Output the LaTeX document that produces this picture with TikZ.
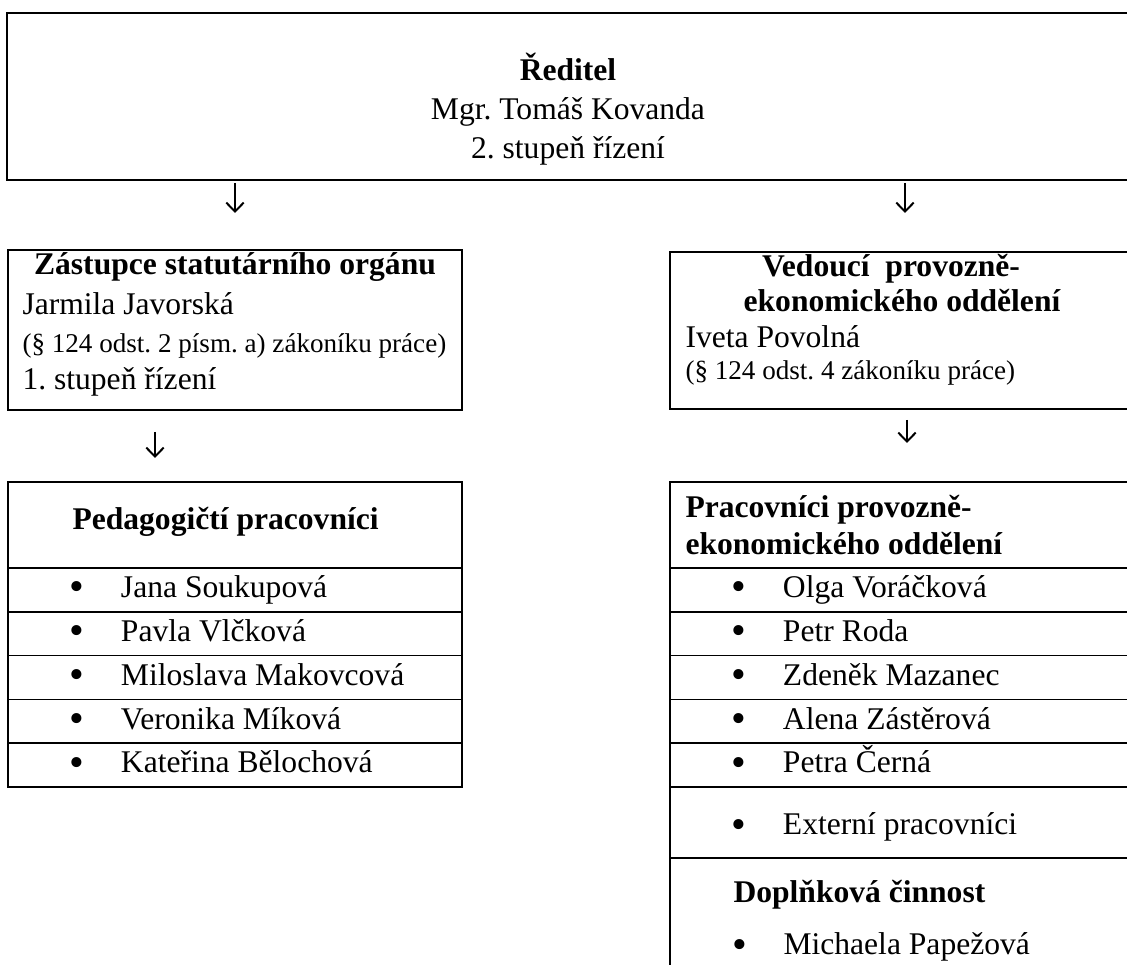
\documentclass[tikz,border=0pt]{standalone}
\usepackage{fontspec}
\setmainfont{Liberation Serif}
\usepackage{tikz}
\usetikzlibrary{arrows.meta,positioning}
\frenchspacing
\newlength\upx
\setlength\upx{0.38pt}
\newlength\lcw
\setlength\lcw{454\upx}
\newlength\rcw
\setlength\rcw{459\upx}
\newcommand{\bulmark}{\hspace*{69\upx}\makebox[0pt]{\raisebox{-1.2pt}{\fontsize{16}{16}\selectfont •}}\hspace*{44\upx}}
\newcommand{\bul}[2]{\makebox[#1][l]{\bulmark#2}}
\definecolor{oredge}{RGB}{0,0,0}
\definecolor{oink}{RGB}{0,0,0}
\tikzset{
  obox/.style={
    draw=oredge, line width=0.7pt, outer sep=0pt, inner sep=0pt, anchor=north west
  },
  cell/.style={
    draw=oredge, line width=0.6pt, outer sep=0pt, inner sep=0pt,
    minimum height=43.8*\upx, text height=8.6pt, text depth=2.6pt,
    font=\fontsize{12}{14}\selectfont, text=oink
  },
  txt/.style={inner sep=0pt, font=\fontsize{12}{14}\selectfont, text=oink},
  head/.style={txt, font=\fontsize{12}{14}\selectfont\bfseries},
  note/.style={txt, font=\fontsize{10.3}{12}\selectfont},
  arr/.style={-{Straight Barb[length=3.4pt,width=6.6pt]}, draw=oredge, line width=0.75pt}
}
\begin{document}
\begin{tikzpicture}[x=\upx, y=-\upx]
  \clip (0,0) rectangle (1127,965);
  \node[obox, minimum width=1122*\upx, minimum height=167*\upx] (red) at (7,13) {};
  \draw[draw=oredge, line width=1pt] (red.south west) -- (red.south east);
  \node[head, anchor=base] (redt) at (568,81) {Ředitel};
  \node[txt, anchor=base] (redn) at (568,120) {Mgr. Tomáš Kovanda};
  \node[txt, anchor=base] (reds) at (568,159) {2. stupeň řízení};

  \node[obox, minimum width=454*\upx, minimum height=160*\upx] (zast) at (8,250) {};
  \node[head, anchor=base] (zastt) at (235,275) {Zástupce statutárního orgánu};
  \node[txt, anchor=base west] (zastn) at (22,315) {Jarmila Javorská};
  \node[note, anchor=base west] (zastp) at (22,353) {(§ 124 odst. 2 písm. a) zákoníku práce)};
  \node[txt, anchor=base west] (zasts) at (22,390) {1. stupeň řízení};

  \node[obox, minimum width=459*\upx, minimum height=157*\upx] (ved) at (670,252) {};
  \node[head, anchor=base] (vedt) at (891,277) {Vedoucí\ \ provozně-};
  \node[head, anchor=base] (vedu) at (902,312) {ekonomického oddělení};
  \node[txt, anchor=base west] (vedn) at (685,348) {Iveta Povolná};
  \node[note, anchor=base west] (vedp) at (685,380) {(§ 124 odst. 4 zákoníku práce)};

  \node[cell, anchor=north west, minimum width=454*\upx, minimum height=86*\upx] (ped) at (8,482) {};
  \node[head, anchor=base west] (pedt) at (72,530) {Pedagogičtí pracovníci};
  \node[cell, below=0pt of ped] (p1) {\bul\lcw{Jana Soukupová}};
  \node[cell, below=0pt of p1] (p2) {\bul\lcw{Pavla Vlčková}};
  \node[cell, below=0pt of p2] (p3) {\bul\lcw{Miloslava Makovcová}};
  \node[cell, below=0pt of p3] (p4) {\bul\lcw{Veronika Míková}};
  \node[cell, below=0pt of p4] (p5) {\bul\lcw{Kateřina Bělochová}};

  \node[cell, anchor=north west, minimum width=459*\upx, minimum height=86*\upx] (pep) at (670,482) {};
  \node[head, anchor=base west] (pept) at (685,518) {Pracovníci provozně-};
  \node[head, anchor=base west] (pepu) at (685,555) {ekonomického oddělení};
  \node[cell, below=0pt of pep] (e1) {\bul\rcw{Olga Voráčková}};
  \node[cell, below=0pt of e1] (e2) {\bul\rcw{Petr Roda}};
  \node[cell, below=0pt of e2] (e3) {\bul\rcw{Zdeněk Mazanec}};
  \node[cell, below=0pt of e3] (e4) {\bul\rcw{Alena Zástěrová}};
  \node[cell, below=0pt of e4] (e5) {\bul\rcw{Petra Černá}};
  \node[cell, below=0pt of e5, minimum height=71*\upx, text height=11pt, text depth=1.5pt] (ext) {\bul\rcw{Externí pracovníci}};
  \node[cell, below=0pt of ext, minimum width=459*\upx, minimum height=117*\upx] (dop) {};
  \node[head, anchor=base west] (dopt) at (733,903) {Doplňková činnost};
  \node[txt, anchor=base west] (dopm) at (670,955) {\bulmark Michaela Papežová};

  \coordinate (a1t) at (235,183);
  \coordinate (a1b) at (235,213);
  \coordinate (a2t) at (905,183);
  \coordinate (a2b) at (905,213);
  \coordinate (a3t) at (155,432);
  \coordinate (a3b) at (155,458);
  \coordinate (a4t) at (907,420);
  \coordinate (a4b) at (907,443);
  \draw[arr] (a1t) -- (a1b);
  \draw[arr] (a2t) -- (a2b);
  \draw[arr] (a3t) -- (a3b);
  \draw[arr] (a4t) -- (a4b);
\end{tikzpicture}
\end{document}
